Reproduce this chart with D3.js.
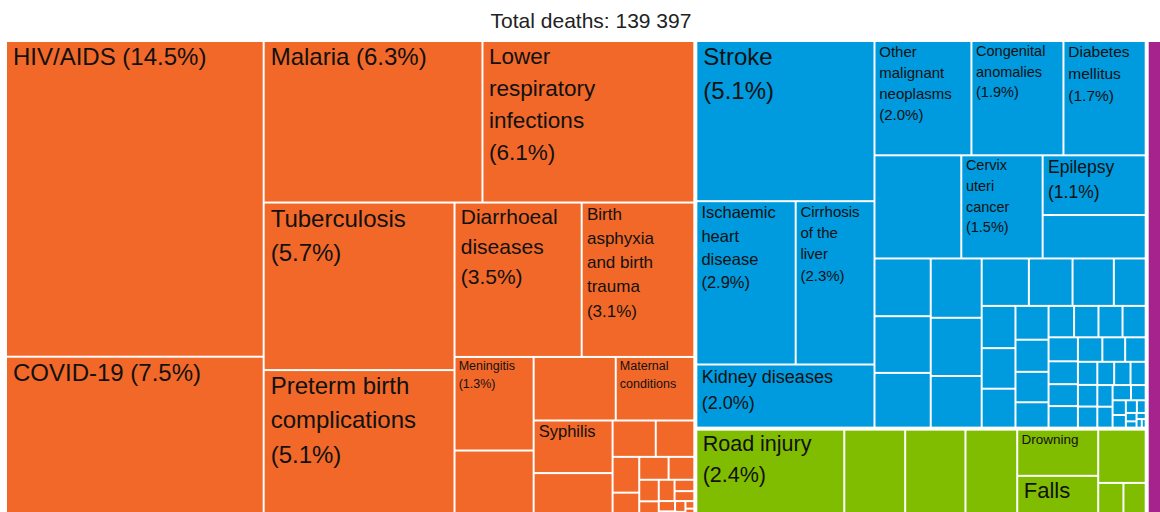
<!DOCTYPE html>
<html>
<head>
<meta charset="utf-8">
<script src="https://cdn.jsdelivr.net/npm/d3@7"></script>
<style>
html, body { margin: 0; padding: 0; overflow: hidden; background: #fff; }
svg { display: block; font-family: "Liberation Sans", Arial, Helvetica, sans-serif; }
</style>
</head>
<body>
<svg id="chart"></svg>
<script>
// ---------------- data (share of total deaths, %) ----------------
const totalDeaths = 139397;

const groupNames = [
  "Communicable, maternal, perinatal and nutritional conditions",
  "Noncommunicable diseases",
  "Injuries",
  "Other"
];

const commCauses = ["HIV/AIDS", "COVID-19", "Malaria", "Lower respiratory infections", "Tuberculosis",
  "Preterm birth complications", "Diarrhoeal diseases", "Birth asphyxia and birth trauma",
  "Meningitis", "Maternal conditions", "Syphilis"];
const commShares = [14.5, 7.5, 6.3, 6.1, 5.7, 5.1, 3.5, 3.1, 1.32, 0.89, 0.74];
const commUnlabelled = [0.98, 0.93, 0.66, 0.28, 0.25, 0.17, 0.13, 0.12, 0.105, 0.075, 0.065, 0.06,
  0.04, 0.035, 0.03, 0.025, 0.02, 0.015, 0.012, 0.01, 0.008];

const ncdCauses = ["Stroke", "Ischaemic heart disease", "Cirrhosis of the liver", "Kidney diseases",
  "Other malignant neoplasms", "Congenital anomalies", "Diabetes mellitus", "Cervix uteri cancer", "Epilepsy"];
const ncdShares = [5.1, 2.9, 2.3, 2.01, 1.98, 1.88, 1.68, 1.5, 1.1];
const ncdUnlabelled = [1.6, 0.8, 0.58, 0.57, 0.55, 0.54, 0.53, 0.47, 0.4, 0.37, 0.35, 0.27, 0.255, 0.245,
  0.235, 0.2, 0.19, 0.18, 0.15, 0.143, 0.137, 0.135, 0.13, 0.126, 0.12, 0.115, 0.113, 0.107, 0.1, 0.09,
  0.08, 0.075, 0.073, 0.07, 0.068, 0.063, 0.059, 0.057, 0.05, 0.04, 0.035, 0.03, 0.025, 0.02, 0.016,
  0.012, 0.01, 0.008, 0.006];

const injCauses = ["Road injury", "Drowning", "Falls"];
const injShares = [2.43, 0.68, 0.65];
const injUnlabelled = [1.0, 0.99, 0.85, 0.46, 0.17, 0.15];

const otherUnlabelled = [2.75];

// ---------------- styles ----------------
const groupColors = ["#F26829", "#009ADE", "#80BC00", "#A6228C"];
// label font size (px) and whether the percentage is shown
const labelStyle = {
  "HIV/AIDS": [24, true], "COVID-19": [24, true], "Malaria": [24, true],
  "Lower respiratory infections": [22.5, true], "Tuberculosis": [24, true],
  "Preterm birth complications": [24, true], "Diarrhoeal diseases": [21, true],
  "Birth asphyxia and birth trauma": [17, true], "Meningitis": [12.5, true],
  "Maternal conditions": [12.5, false], "Syphilis": [16.5, false],
  "Stroke": [24, true], "Ischaemic heart disease": [16.5, true],
  "Cirrhosis of the liver": [15, true], "Kidney diseases": [18, true],
  "Other malignant neoplasms": [15, true], "Congenital anomalies": [14.5, true],
  "Diabetes mellitus": [15.5, true], "Cervix uteri cancer": [14.5, true],
  "Epilepsy": [17.5, true], "Road injury": [21.5, true], "Drowning": [13.5, false],
  "Falls": [22, false]
};

const margin = { left: 7, top: 42 };
const W = 1170, H = 477;

const svg = d3.select("#chart")
  .attr("width", margin.left * 2 + W)
  .attr("height", margin.top + H + 8);

svg.append("text")
  .attr("x", margin.left + W / 2 - 1)
  .attr("y", 28)
  .attr("text-anchor", "middle")
  .attr("font-size", 21)
  .attr("fill", "#222")
  .text("Total deaths: " + d3.format(",")(totalDeaths).replace(/,/g, " "));

const groupDefs = [
  [commCauses, commShares, commUnlabelled],
  [ncdCauses, ncdShares, ncdUnlabelled],
  [injCauses, injShares, injUnlabelled],
  [[], [], otherUnlabelled]
];

const data = {
  name: "All causes",
  children: groupDefs.map(([causes, shares, extra], gi) => ({
    name: groupNames[gi],
    gi: gi,
    children: causes.map((c, i) => ({ name: c, value: shares[i] }))
      .concat(extra.map(v => ({ name: "", value: v })))
  }))
};

// ordered "pivot-by-size" tiling
function pivotBySize(parent, x0, y0, x1, y1) {
  place(parent.children.slice(), x0, y0, x1, y1);
}
function place(nodes, x0, y0, x1, y1) {
  if (!nodes.length) return;
  const p = nodes[0];
  if (nodes.length === 1) { p.x0 = x0; p.y0 = y0; p.x1 = x1; p.y1 = y1; return; }
  const total = d3.sum(nodes, d => d.value);
  const w = x1 - x0, h = y1 - y0, wide = w > h;
  let best = Infinity, split = 1, acc = 0;
  for (let k = 1; k <= nodes.length; k++) {
    acc += nodes[k - 1].value;
    let a, b;
    if (wide) { a = w * acc / total; b = h * p.value / acc; }
    else { a = h * acc / total; b = w * p.value / acc; }
    const r = Math.max(a / b, b / a);
    if (r < best) { best = r; split = k; }
  }
  const band = d3.sum(nodes.slice(0, split), d => d.value);
  const l2 = nodes.slice(1, split), l3 = nodes.slice(split);
  if (wide) {
    const xm = x0 + w * band / total, ym = y0 + h * p.value / band;
    p.x0 = x0; p.y0 = y0; p.x1 = xm; p.y1 = ym;
    place(l2, x0, ym, xm, y1);
    place(l3, xm, y0, x1, y1);
  } else {
    const ym = y0 + h * band / total, xm = x0 + w * p.value / band;
    p.x0 = x0; p.y0 = y0; p.x1 = xm; p.y1 = ym;
    place(l2, xm, y0, x1, ym);
    place(l3, x0, ym, x1, y1);
  }
}

const root = d3.hierarchy(data)
  .sum(d => d.children ? 0 : d.value)
  .sort((a, b) => b.value - a.value);

d3.treemap()
  .size([W, H])
  .paddingInner(n => n.depth === 0 ? 4 : 2)
  .tile(pivotBySize)(root);

const g = svg.append("g").attr("transform", `translate(${margin.left},${margin.top})`);

const leaves = root.leaves();
g.selectAll("rect")
  .data(leaves)
  .join("rect")
  .attr("x", d => d.x0)
  .attr("y", d => d.y0)
  .attr("width", d => Math.max(0, d.x1 - d.x0))
  .attr("height", d => Math.max(0, d.y1 - d.y0))
  .attr("fill", d => groupColors[d.parent.data.gi]);

const measurer = svg.append("text").attr("visibility", "hidden");
function textWidth(str, fs) {
  measurer.attr("font-size", fs).text(str);
  return measurer.node().getComputedTextLength();
}
function wrap(words, fs, maxW) {
  const lines = [];
  let line = words[0];
  for (let i = 1; i < words.length; i++) {
    const t = line + " " + words[i];
    if (textWidth(t, fs) > maxW) { lines.push(line); line = words[i]; }
    else line = t;
  }
  lines.push(line);
  return lines;
}

leaves.filter(d => labelStyle[d.data.name]).forEach(d => {
  const [fs, showPct] = labelStyle[d.data.name];
  const words = d.data.name.split(" ");
  if (showPct) words.push("(" + (d.value / root.value * 100).toFixed(1) + "%)");
  const lines = wrap(words, fs, (d.x1 - d.x0) * 0.768);
  const t = g.append("text").attr("font-size", fs).attr("fill", "#111");
  lines.forEach((ln, i) => {
    t.append("tspan")
      .attr("x", d.x0 + 0.25 * fs)
      .attr("y", d.y0 + 0.97 * fs + i * 1.42 * fs)
      .text(ln);
  });
});
measurer.remove();
</script>
</body>
</html>
